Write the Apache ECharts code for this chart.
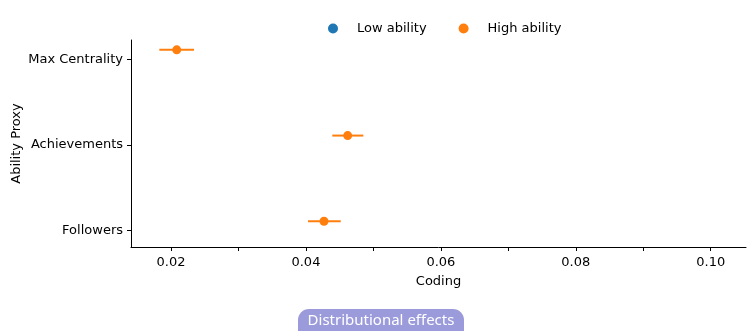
<!DOCTYPE html>
<html>
<head>
<meta charset="utf-8">
<script src="https://cdn.jsdelivr.net/npm/echarts@6/dist/echarts.min.js"></script>
<style>
  html, body { margin: 0; padding: 0; background: #fff; }
  #chart { width: 747px; height: 331px; }
</style>
</head>
<body>
<div id="chart"></div>
<script>
// Ability proxies, listed bottom to top on the y axis
const categories = ['Followers', 'Achievements', 'Max Centrality'];

// Estimated coding effect for the high-ability group, with its confidence interval
const highEstimate = [0.04268, 0.04619, 0.02085];
const highLower    = [0.04031, 0.04391, 0.01827];
const highUpper    = [0.04516, 0.04851, 0.02341];

// Low-ability group: shown in the legend, no estimates plotted
const lowEstimate = [];
const lowLower    = [];
const lowUpper    = [];

// Axis ticks
const xLabelTicks = [0.02, 0.04, 0.06, 0.08, 0.10];
const xAllTicks   = [0.02, 0.03, 0.04, 0.05, 0.06, 0.07, 0.08, 0.09, 0.10];
const yTicks      = [0, 1, 2];

// Vertical dodge of each group around its category row
const dodge = { low: -0.11, high: 0.11 };

const blue = '#1f77b4';
const orange = '#ff7f0e';
const font = 'DejaVu Sans';

function pointData(est, off) {
  return est.map((v, i) => [v, i + off]);
}
function barData(lo, hi, off) {
  return lo.map((v, i) => [v, hi[i], i + off]);
}
function errorBar(color) {
  return function (params, api) {
    const a = api.coord([api.value(0), api.value(2)]);
    const b = api.coord([api.value(1), api.value(2)]);
    return {
      type: 'line',
      shape: { x1: a[0], y1: a[1], x2: b[0], y2: b[1] },
      style: { stroke: color, lineWidth: 2 }
    };
  };
}

const chart = echarts.init(document.getElementById('chart'), null, { renderer: 'canvas' });

chart.setOption({
  animation: false,
  backgroundColor: '#ffffff',
  textStyle: { fontFamily: font },
  legend: {
    left: 323,
    top: 17,
    itemWidth: 38,
    itemHeight: 10,
    itemGap: 32,
    icon: 'circle',
    textStyle: { fontFamily: font, fontSize: 13, color: '#000' },
    data: [
      { name: 'Low ability', itemStyle: { color: blue } },
      { name: 'High ability', itemStyle: { color: orange } }
    ]
  },
  grid: { left: 131, right: 1, top: 40, bottom: 84, containLabel: false, outerBoundsMode: 'none' },
  xAxis: {
    type: 'value',
    min: 0.014071,
    max: 0.10523,
    name: 'Coding',
    nameLocation: 'middle',
    nameGap: 28,
    nameMoveOverlap: false,
    nameTextStyle: { fontFamily: font, fontSize: 13, color: '#000' },
    axisLine: { show: true, onZero: false, lineStyle: { color: '#000', width: 1 } },
    axisTick: { show: true, customValues: xAllTicks, length: 4, lineStyle: { color: '#000' } },
    axisLabel: {
      customValues: xLabelTicks,
      formatter: v => v.toFixed(2),
      fontFamily: font, fontSize: 13, color: '#000', margin: 9
    },
    splitLine: { show: false }
  },
  yAxis: {
    type: 'value',
    min: -0.19,
    max: 2.225,
    name: 'Ability Proxy',
    nameLocation: 'middle',
    nameGap: 108,
    nameRotate: 90,
    nameMoveOverlap: false,
    nameTextStyle: { fontFamily: font, fontSize: 13, color: '#000' },
    axisLine: { show: true, onZero: false, lineStyle: { color: '#000', width: 1 } },
    axisTick: { show: true, customValues: yTicks, length: 4, lineStyle: { color: '#000' } },
    axisLabel: {
      customValues: yTicks,
      formatter: v => categories[Math.round(v)],
      fontFamily: font, fontSize: 13, color: '#000', margin: 8
    },
    splitLine: { show: false }
  },
  series: [
    {
      name: 'Low ability',
      type: 'custom',
      renderItem: errorBar(blue),
      encode: { x: [0, 1], y: 2 },
      data: barData(lowLower, lowUpper, dodge.low),
      itemStyle: { color: blue },
      z: 2
    },
    {
      name: 'Low ability',
      type: 'scatter',
      symbolSize: 9,
      itemStyle: { color: blue, opacity: 1 },
      data: pointData(lowEstimate, dodge.low),
      z: 3
    },
    {
      name: 'High ability',
      type: 'custom',
      renderItem: errorBar(orange),
      encode: { x: [0, 1], y: 2 },
      data: barData(highLower, highUpper, dodge.high),
      itemStyle: { color: orange },
      z: 2
    },
    {
      name: 'High ability',
      type: 'scatter',
      symbolSize: 9,
      itemStyle: { color: orange, opacity: 1 },
      data: pointData(highEstimate, dodge.high),
      z: 3
    }
  ],
  graphic: [
    {
      type: 'group',
      left: 298,
      top: 309,
      children: [
        {
          type: 'rect',
          shape: { x: 0, y: 0, width: 166, height: 32, r: 11 },
          style: { fill: '#9b9bdb' }
        },
        {
          type: 'text',
          x: 83,
          y: 12,
          style: {
            text: 'Distributional effects',
            fill: '#ffffff',
            font: '15px "Noto Sans"',
            align: 'center',
            verticalAlign: 'middle'
          }
        }
      ]
    }
  ]
});
</script>
</body>
</html>
